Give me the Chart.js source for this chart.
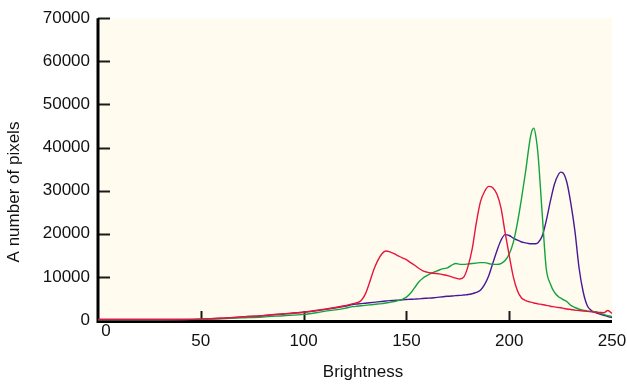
<!DOCTYPE html>
<html>
<head>
<meta charset="utf-8">
<script src="https://cdn.jsdelivr.net/npm/chart.js@4"></script>
<style>
  html, body { margin: 0; padding: 0; background: #ffffff; }
  #box { width: 627px; height: 386px; }
</style>
</head>
<body>
<div id="box"><canvas id="myChart"></canvas></div>
<script>
const brightness = [0, 10, 20, 30, 40, 50, 60, 70, 80, 90, 100, 110, 120,
    124, 126, 128, 130, 132, 134, 136, 138, 140, 142,
    144, 146, 148, 150, 152, 154, 156, 158, 160, 162,
    164, 166, 168, 170, 172, 174, 176, 178, 180, 182,
    184, 186, 188, 190, 192, 194, 196, 198, 200, 202,
    204, 206, 208, 210, 211, 212, 213, 214,
    216, 218, 220, 222, 224, 225,
    226, 228, 230, 232, 234, 236, 238, 240, 242, 244, 246, 248, 250, 252, 254, 255];

const redCounts = [100, 100, 100, 100, 120, 200, 400, 700, 1000, 1400, 1800, 2500, 3300,
    3800, 4000, 4500, 6000, 8600, 11500, 13700, 15300, 16000, 15800,
    15400, 14900, 14400, 14000, 13300, 12700, 12000, 11400, 11100, 10900,
    10800, 10700, 10500, 10300, 10000, 9700, 9500, 10000, 12500, 16500,
    22500, 27400, 29800, 31000, 30700, 29200, 26000, 20300, 15000, 10000,
    6800, 5100, 4500, 4200, 4100, 3950, 3850, 3750,
    3600, 3400, 3200, 3050, 2900, 2850,
    2750, 2550, 2450, 2300, 2200, 2100, 2000, 1900, 1800, 1750, 1700, 2200, 1500, 900, 400, 250];

const greenCounts = [50, 50, 50, 50, 80, 150, 300, 500, 700, 1000, 1300, 2000, 2700,
    3100, 3200, 3300, 3400, 3500, 3600, 3700, 3800, 3950, 4100,
    4300, 4500, 4800, 5300, 6200, 7500, 8800, 9700, 10300, 10800,
    11200, 11600, 11900, 12100, 12700, 13100, 12900, 12900, 13000, 13100,
    13200, 13300, 13300, 13100, 12900, 12900, 13100, 13800, 15300, 18000,
    22500, 28200, 34500, 41500, 43800, 44500, 42500, 38500,
    25000, 12000, 8400, 6400, 5400, 5100,
    4800, 4300, 3400, 2900, 2500, 2300, 2100, 2000, 1900, 1600, 1300, 1000, 800, 600, 400, 300];

const blueCounts = [100, 100, 100, 100, 120, 200, 400, 700, 1000, 1400, 1800, 2400, 3200,
    3600, 3700, 3800, 3900, 4000, 4100, 4200, 4300, 4400, 4500,
    4550, 4600, 4700, 4750, 4800, 4850, 4900, 5000, 5050, 5100,
    5200, 5300, 5400, 5500, 5550, 5650, 5700, 5800, 5900, 6100,
    6400, 6900, 8200, 10200, 13100, 16000, 18500, 19800, 19600, 19000,
    18500, 18100, 17900, 17700, 17700, 17700, 17700, 17900,
    19400, 23000, 27500, 31500, 33800, 34300,
    34200, 32000, 27000, 20500, 12000, 6500, 3300, 2200, 1700, 1400, 1100, 800, 550, 350, 250, 200];

const xTickValues = [0, 50, 100, 150, 200, 250];

function toPoints(values) {
    return brightness.map((b, i) => ({ x: b, y: values[i] }));
}

const FONT = "'Liberation Sans', Arial, sans-serif";

const frame = {
    id: 'frame',
    beforeDraw(chart) {
        const a = chart.chartArea;
        const ctx = chart.ctx;
        ctx.save();
        ctx.fillStyle = '#fffcef';
        ctx.fillRect(a.left, a.top, a.right - a.left, a.bottom - a.top);
        ctx.restore();
    },
    beforeDatasetsDraw(chart) {
        const a = chart.chartArea;
        const ctx = chart.ctx;
        const xs = chart.scales.x;
        const ys = chart.scales.y;
        ctx.save();
        ctx.strokeStyle = '#1a1a1a';
        ctx.lineWidth = 2;
        // inward tick marks
        ys.ticks.forEach(t => {
            const y = Math.round(ys.getPixelForValue(t.value)) + 0.5;
            ctx.beginPath();
            ctx.moveTo(a.left, y);
            ctx.lineTo(a.left + 12, y);
            ctx.stroke();
        });
        xTickValues.slice(1, -1).forEach(v => {
            const x = Math.round(xs.getPixelForValue(v)) + 0.5;
            ctx.beginPath();
            ctx.moveTo(x, a.bottom);
            ctx.lineTo(x, a.bottom - 9);
            ctx.stroke();
        });
        // axis lines
        ctx.strokeStyle = '#000000';
        ctx.lineWidth = 3;
        ctx.beginPath();
        ctx.moveTo(a.left, a.top);
        ctx.lineTo(a.left, a.bottom + 1.5);
        ctx.lineTo(a.right, a.bottom + 1.5);
        ctx.stroke();
        ctx.restore();
    },
    afterDraw(chart) {
        const a = chart.chartArea;
        const ctx = chart.ctx;
        const xs = chart.scales.x;
        ctx.save();
        ctx.fillStyle = '#111111';
        ctx.font = '17px ' + FONT;
        ctx.textAlign = 'center';
        ctx.textBaseline = 'middle';
        xTickValues.forEach(v => {
            if (v === 0) {
                ctx.fillText('0', xs.getPixelForValue(v) + 8, a.bottom + 11);
            } else {
                ctx.fillText(String(v), xs.getPixelForValue(v), a.bottom + 21);
            }
        });
        ctx.fillText('Brightness', 363, 372);
        ctx.translate(14, 192);
        ctx.rotate(-Math.PI / 2);
        ctx.fillText('A number of pixels', 0, 0);
        ctx.restore();
    }
};

function line(label, values, color) {
    return {
        label: label,
        data: toPoints(values),
        borderColor: color,
        backgroundColor: color,
        borderWidth: 1.4,
        pointRadius: 0,
        cubicInterpolationMode: 'monotone',
        fill: false,
        clip: false
    };
}

const ctx = document.getElementById('myChart').getContext('2d');
const myChart = new Chart(ctx, {
    type: 'line',
    data: {
        datasets: [
            line('Red', redCounts, '#e8143c'),
            line('Green', greenCounts, '#12a43c'),
            line('Blue', blueCounts, '#4a1896')
        ]
    },
    options: {
        responsive: true,
        maintainAspectRatio: false,
        animation: false,
        layout: { padding: { top: 14, right: 15, left: 0, bottom: 0 } },
        plugins: {
            legend: { display: false },
            tooltip: { enabled: false }
        },
        scales: {
            x: {
                type: 'linear',
                min: 0,
                max: 250,
                border: { display: false },
                grid: { display: false },
                ticks: { display: false },
                afterFit(scale) { scale.height = 66; }
            },
            y: {
                min: 0,
                max: 70000,
                border: { display: false },
                grid: { display: false, drawTicks: false },
                ticks: {
                    stepSize: 10000,
                    padding: 8,
                    color: '#111111',
                    font: { family: FONT, size: 17 },
                    callback: v => String(v)
                },
                afterFit(scale) { scale.width = 98; }
            }
        }
    },
    plugins: [frame]
});
</script>
</body>
</html>
